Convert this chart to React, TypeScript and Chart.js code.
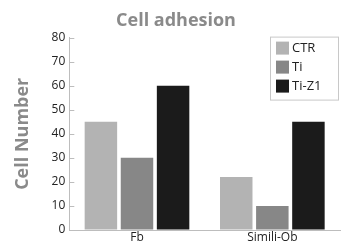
import React, { useEffect, useRef } from "react";
import { Chart, registerables } from "chart.js";

Chart.register(...registerables);

const categories = ["Fb", "Simili-Ob"];
const seriesNames = ["CTR", "Ti", "Ti-Z1"];
const seriesColors = ["#b3b3b3", "#878787", "#1b1b1b"];
const ctrValues = [45, 22];
const tiValues = [30, 10];
const tiZ1Values = [60, 45];
const yTicks = [0, 10, 20, 30, 40, 50, 60, 70, 80];

const FONT = "'Open Sans', 'Noto Sans', sans-serif";

const innerTicks = {
  id: "innerTicks",
  afterDraw(chart: any) {
    const y = chart.scales.y;
    const ctx = chart.ctx;
    ctx.save();
    ctx.strokeStyle = "#bdbdbd";
    ctx.lineWidth = 1;
    y.ticks.forEach((t: any) => {
      const py = Math.round(y.getPixelForValue(t.value)) + 0.5;
      ctx.beginPath();
      ctx.moveTo(y.right, py);
      ctx.lineTo(y.right + 5, py);
      ctx.stroke();
    });
    ctx.restore();
  },
};

const boxLegend = {
  id: "boxLegend",
  afterDraw(chart: any) {
    const { ctx, chartArea } = chart;
    const w = 68;
    const h = 63;
    const x0 = chartArea.right - w - 2;
    const y0 = chartArea.top - 1;
    ctx.save();
    ctx.fillStyle = "#ffffff";
    ctx.fillRect(x0, y0, w, h);
    ctx.strokeStyle = "#c8c8c8";
    ctx.lineWidth = 1;
    ctx.strokeRect(x0 + 0.5, y0 + 0.5, w, h);
    ctx.font = `13px ${FONT}`;
    ctx.textBaseline = "middle";
    ctx.textAlign = "left";
    chart.data.datasets.forEach((ds: any, i: number) => {
      const cy = y0 + 11.5 + i * 19;
      ctx.fillStyle = ds.backgroundColor;
      ctx.fillRect(x0 + 6, cy - 6.5, 13, 13);
      ctx.fillStyle = "#222222";
      ctx.fillText(ds.label, x0 + 22, cy + 0.5);
    });
    ctx.restore();
  },
};

export default function App() {
  const ref = useRef<HTMLCanvasElement>(null);
  useEffect(() => {
    document.body.style.margin = "0";
    const chart = new Chart(ref.current!, {
      type: "bar",
      data: {
        labels: categories,
        datasets: [
          { label: seriesNames[0], data: ctrValues, backgroundColor: seriesColors[0] },
          { label: seriesNames[1], data: tiValues, backgroundColor: seriesColors[1] },
          { label: seriesNames[2], data: tiZ1Values, backgroundColor: seriesColors[2] },
        ],
      },
      options: {
        animation: false,
        responsive: false,
        layout: { padding: { left: 12, right: 1, top: 0, bottom: 0 } },
        plugins: {
          legend: { display: false },
          tooltip: { enabled: false },
          title: {
            display: true,
            text: "Cell adhesion",
            color: "#8a8a8a",
            font: { family: FONT, size: 18, weight: "bold" },
            padding: { top: 10, bottom: 6 },
          },
        },
        scales: {
          x: {
            grid: { display: true, drawOnChartArea: false, drawTicks: false },
            border: { display: true, color: "#bdbdbd" },
            ticks: { color: "#222", font: { family: FONT, size: 12, lineHeight: 1 }, padding: 2 },
          },
          y: {
            min: 0,
            max: 80,
            afterBuildTicks: (axis: any) => {
              axis.ticks = yTicks.map((v) => ({ value: v }));
            },
            grid: { display: true, drawOnChartArea: false, drawTicks: false },
            border: { display: true, color: "#bdbdbd" },
            ticks: { color: "#222", font: { family: FONT, size: 12 }, padding: 4 },
            title: {
              display: true,
              text: "Cell Number",
              color: "#8a8a8a",
              font: { family: FONT, size: 18, weight: "bold" },
              padding: { top: 0, bottom: 14 },
            },
          },
        },
      },
      plugins: [innerTicks, boxLegend],
    });
    return () => chart.destroy();
  }, []);
  return <canvas ref={ref} width={341} height={246} style={{ display: "block" }} />;
}
